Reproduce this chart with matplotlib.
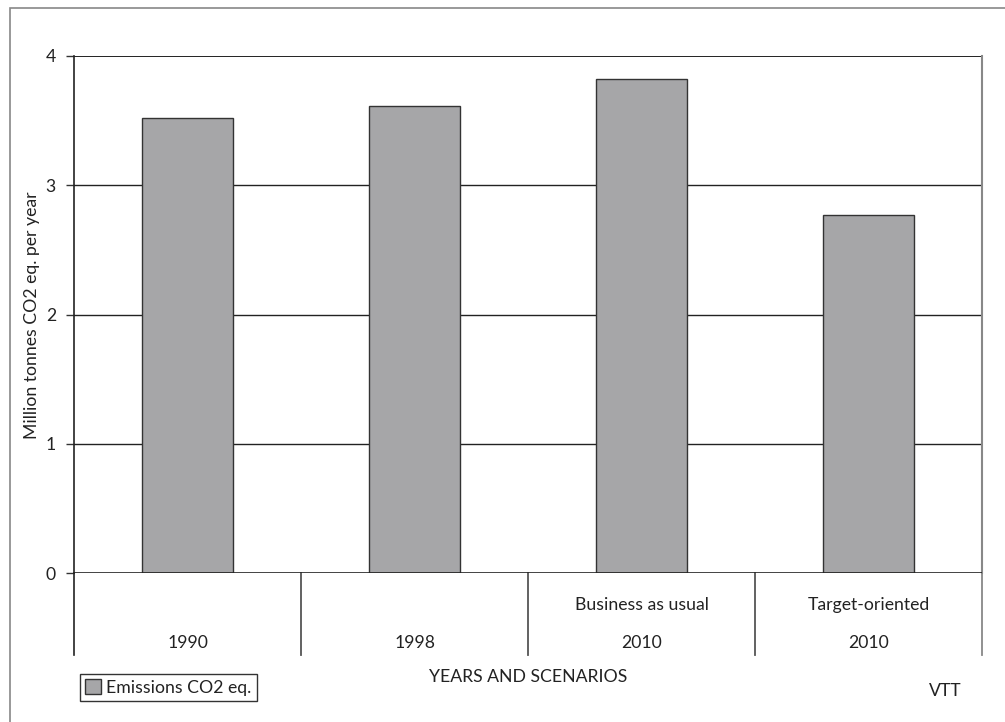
import matplotlib
matplotlib.use("Agg")
import matplotlib.pyplot as plt
from matplotlib.patches import Rectangle

plt.rcParams['font.family'] = ['Lato', 'DejaVu Sans']

years = ["1990", "1998", "2010", "2010"]
scenarios = ["", "", "Business as usual", "Target-oriented"]
emissions = [3.52, 3.615, 3.82, 2.77]
yticks = [0, 1, 2, 3, 4]

W, H = 1005, 722
txt = '#222222'
fs = 12.7
fig = plt.figure(figsize=(W / 100, H / 100), dpi=100)
ax = fig.add_axes([74 / W, 1 - 573.3 / H, (982 - 74) / W, (573.3 - 56) / H])

x = range(len(emissions))
ax.bar(x, emissions, width=0.4, color='#a6a6a8', edgecolor='#333333',
       linewidth=1, zorder=3, label='Emissions CO2 eq.')

ax.set_xlim(-0.5, len(emissions) - 0.5)
ax.set_ylim(0, 4)
ax.set_yticks(yticks)
ax.set_yticklabels([str(t) for t in yticks], fontsize=fs, color=txt)
ax.tick_params(axis='y', length=6, width=1, color='#333333', pad=7)
ax.set_xticks([])

# horizontal gridlines
for t in yticks[1:]:
    ax.axhline(t, color='#222222', linewidth=1.0 if t < 4 else 1.4, zorder=1)

for side in ['top', 'bottom']:
    ax.spines[side].set_visible(False)
ax.axhline(0, color='#222222', linewidth=1.2, zorder=4)
ax.spines['left'].set_color('#222222')
ax.spines['left'].set_linewidth(1.2)
ax.spines['right'].set_color('#888888')
ax.spines['right'].set_linewidth(1.5)

# category table below the axis
low = -(655 - 573.3) / (573.3 - 56)
tr = ax.get_xaxis_transform()
for i in range(len(emissions) + 1):
    xs = i - 0.5
    col = '#222222' if i == 0 else ('#888888' if i == len(emissions) else '#555555')
    ax.plot([xs, xs], [0, low], transform=tr, color=col,
            linewidth=1.2 if i == 0 else 1.3, clip_on=False)
for i, (yr, sc) in enumerate(zip(years, scenarios)):
    ax.text(i, -(605 - 573.3) / 517.3, sc, transform=tr, ha='center',
            va='center', fontsize=fs, color=txt)
    ax.text(i, -(643 - 573.3) / 517.3, yr, transform=tr, ha='center',
            va='center', fontsize=fs, color=txt)

fig.text(528 / W, 1 - 677 / H, 'YEARS AND SCENARIOS', ha='center',
         va='center', fontsize=fs, color=txt)
fig.text(962 / W, 1 - 691 / H, 'VTT', ha='right', va='center',
         fontsize=fs, color=txt)
fig.text(32 / W, 1 - 315 / H, 'Million tonnes CO2 eq. per year',
         rotation=90, ha='center', va='center', fontsize=fs, color=txt)

leg = ax.legend(loc='lower left', bbox_to_anchor=(80 / W, 1 - 701 / H),
                bbox_transform=fig.transFigure, borderaxespad=0,
                fancybox=False, framealpha=1, edgecolor='#333333',
                fontsize=fs, handlelength=0.9, handleheight=0.9,
                handletextpad=0.3, borderpad=0.3)
leg.get_frame().set_linewidth(1)
for t in leg.get_texts():
    t.set_color(txt)

# outer frame
fig.add_artist(Rectangle((10 / W, -0.1), 1.2, 1.1 - 8 / H,
                         transform=fig.transFigure, fill=False,
                         edgecolor='#888888', linewidth=1.2))

fig.savefig('out.png', dpi=100)
